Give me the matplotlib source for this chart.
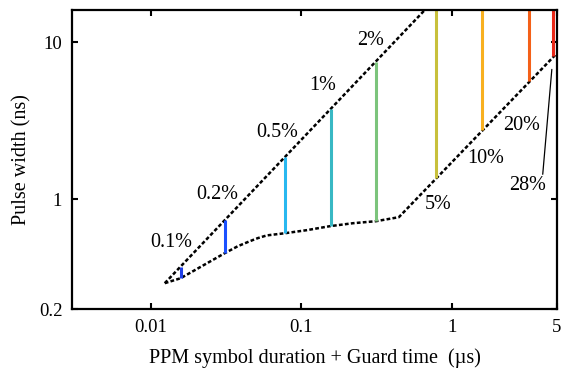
import matplotlib.pyplot as plt

plt.rcParams['font.family'] = ['Liberation Serif', 'DejaVu Serif']

# upper bound line (dashed)
upper_x = [0.0124, 0.662]
upper_y = [0.292, 16.0]

# lower bound curve (dashed)
lower_x = [0.0124, 0.0158, 0.031, 0.0379, 0.0455, 0.0514, 0.059, 0.0777, 0.1088,
           0.1547, 0.22, 0.313, 0.445, 5.0]
lower_y = [0.292, 0.314, 0.453, 0.502, 0.540, 0.565, 0.588, 0.607, 0.635,
           0.673, 0.703, 0.724, 0.768, 8.5]

# duty cycle segments
duty_labels = ['0.1%', '0.2%', '0.5%', '1%', '2%', '5%', '10%', '20%', '28%']
seg_x = [0.0158, 0.031, 0.0777, 0.157, 0.313, 0.783, 1.58, 3.25, 4.7]
seg_bottom = [0.314, 0.453, 0.607, 0.673, 0.724, 1.36, 2.75, 5.65, 8.1]
seg_top = [0.37, 0.738, 1.85, 3.74, 7.45, 20, 20, 20, 20]
seg_colors = ['#1f3fe8', '#1a50ff', '#28b8f0', '#38b8c4', '#7cc47c',
              '#c8c03c', '#f8b020', '#f46018', '#e82818']

xticks = [0.01, 0.1, 1, 5]
xticklabels = ['0.01', '0.1', '1', '5']
yticks = [0.2, 1, 10]
yticklabels = ['0.2', '1', '10']

fig = plt.figure(figsize=(5.62, 3.79), dpi=100)
ax = fig.add_axes([72 / 562, 70 / 379, 485 / 562, 299 / 379])
ax.set_xscale('log')
ax.set_yscale('log')
ax.set_xlim(0.003, 5)
ax.set_ylim(0.2, 16)

dash = (0, (1.5, 0.9))
ax.plot(upper_x, upper_y, color='black', lw=1.8, linestyle=dash)
ax.plot(lower_x, lower_y, color='black', lw=1.8, linestyle=dash)

for x, b, t, c in zip(seg_x, seg_bottom, seg_top, seg_colors):
    ax.plot([x, x], [b, t], color=c, lw=2.2, solid_capstyle='butt')

# label placement (pixel offsets from segment end)
offsets = [(-9, 25), (-7, 25), (-8, 25), (-8, 24), (-5, 22), (2, -26), (4, -28), (-7, -44)]
for i, (dx, dy) in enumerate(offsets):
    yref = seg_top[i] if dy > 0 else seg_bottom[i]
    ax.annotate(duty_labels[i], xy=(seg_x[i], yref), xytext=(dx, dy),
                textcoords='offset pixels', ha='center', va='center', fontsize=14.5)

ax.text(3.2, 1.23, duty_labels[8], ha='center', va='center', fontsize=14.5)
ax.annotate('', xy=(4.62, 6.7), xytext=(4.02, 1.44),
            arrowprops=dict(arrowstyle='-', lw=0.9, color='black', shrinkA=0, shrinkB=0))

ax.set_xticks(xticks)
ax.set_xticklabels(xticklabels)
ax.set_yticks(yticks)
ax.set_yticklabels(yticklabels)
ax.minorticks_off()
ax.tick_params(direction='in', length=4, width=1.5, top=True, right=True, labelsize=13.5, pad=7)
for s in ax.spines.values():
    s.set_linewidth(1.6)

ax.set_xlabel('PPM symbol duration + Guard time  (\u00b5s)', fontsize=14.5, labelpad=9)
ax.set_ylabel('Pulse width (ns)', fontsize=14.5, labelpad=5)

fig.savefig('out.png', dpi=100)
